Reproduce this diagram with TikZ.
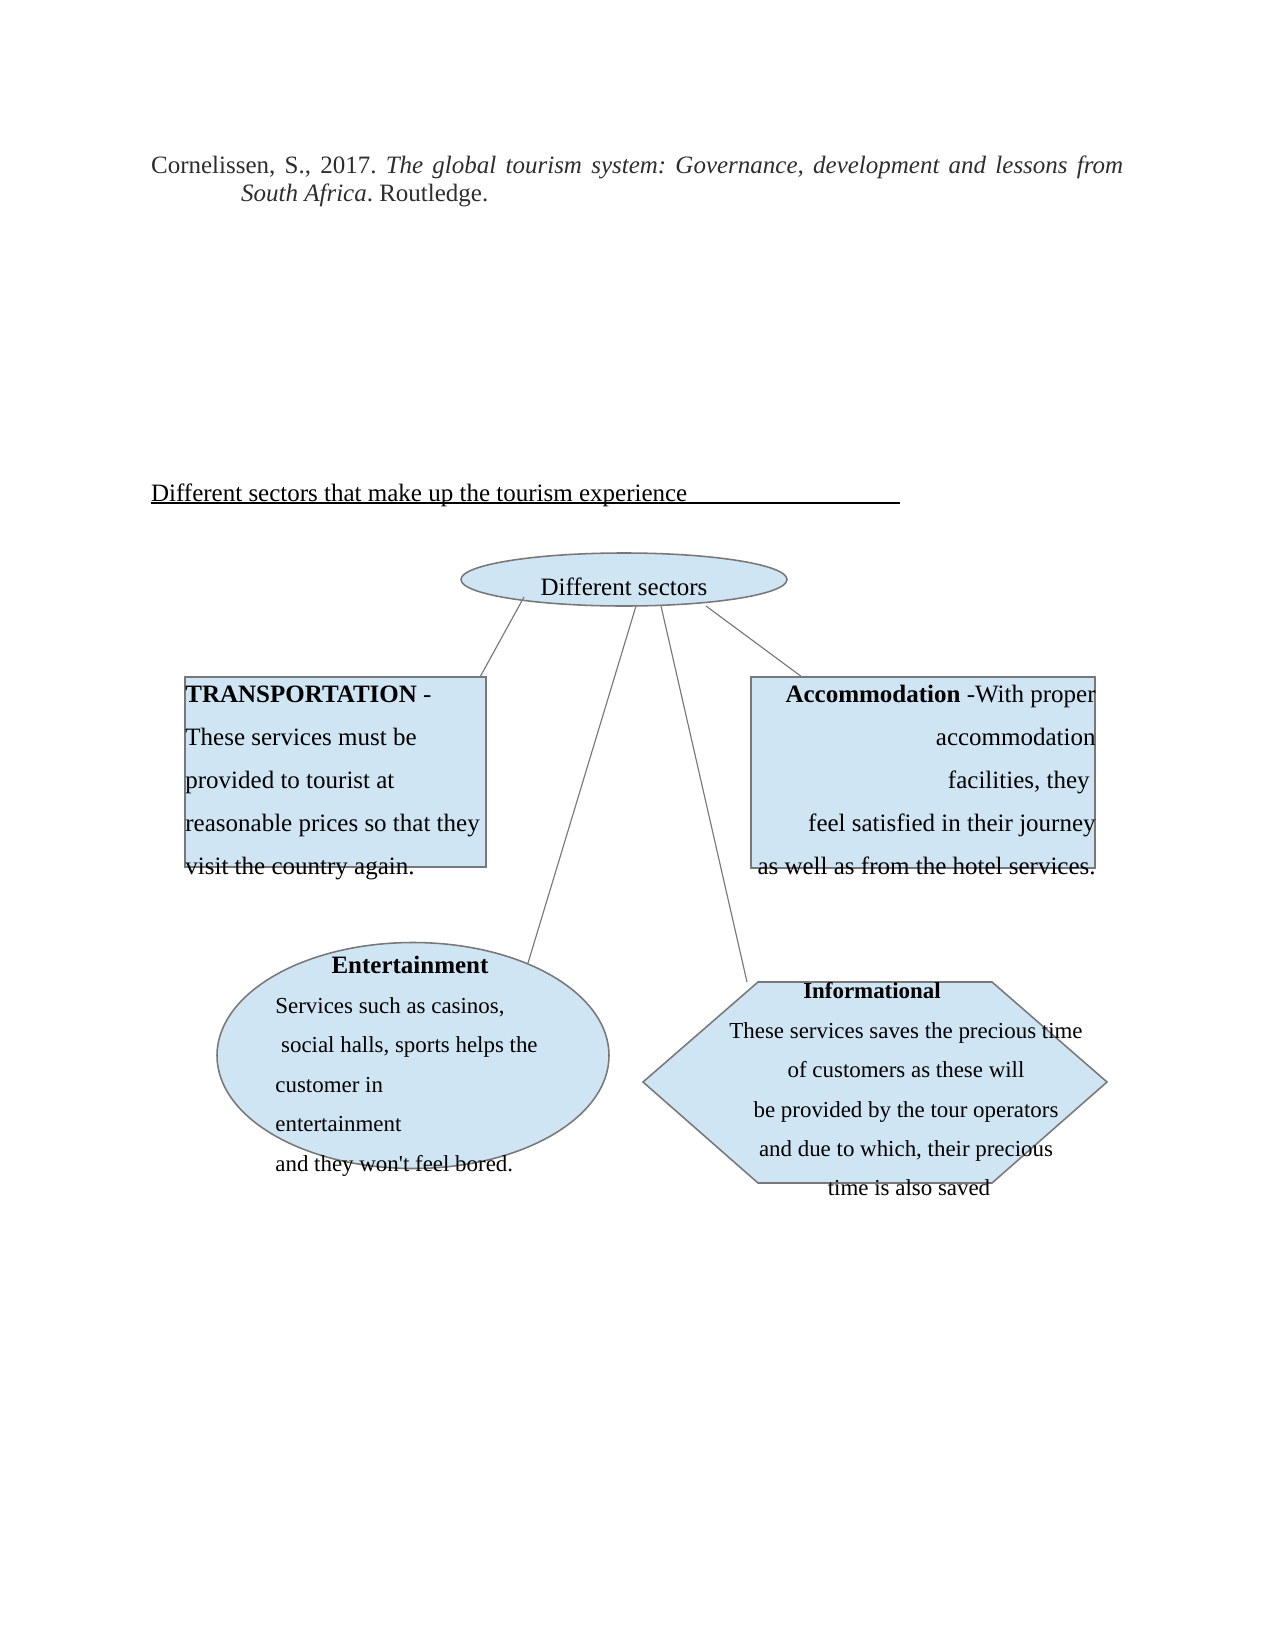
\documentclass[tikz,border=0pt]{standalone}
\usepackage{fontspec}
\setmainfont{Liberation Serif}
\usetikzlibrary{shapes.geometric}
\definecolor{boxfill}{RGB}{207,229,243}
\definecolor{boxline}{RGB}{120,120,120}
\definecolor{cite}{RGB}{45,45,45}
\tikzset{
  shapebox/.style={draw=boxline, line width=0.75pt, fill=boxfill, inner sep=0pt},
  conn/.style={draw=boxline, line width=0.55pt},
  txt/.style={inner sep=0pt, font=\fontsize{12}{14}\selectfont},
  stxt/.style={inner sep=0pt, font=\fontsize{11}{13}\selectfont},
}
\frenchspacing
\begin{document}
\begin{tikzpicture}[x=0.48pt, y=-0.48pt]
\useasboundingbox (0,0) rectangle (1275,1651);

% citation
\node[txt, text=cite, anchor=base west] (cit1) at (150.7,174) {\frenchspacing\hbox to 466.6pt{Cornelissen, S., 2017. \textit{The global tourism system: Governance, development and lessons from}}};
\node[txt, text=cite, anchor=base west] (cit2) at (240.7,202) {\textit{South Africa}. Routledge.};

% heading
\node[txt, anchor=base west] (head) at (150.7,501) {Different sectors that make up the tourism experience};
\coordinate (ul1) at (150.7,503);
\coordinate (ul2) at (900,503);
\draw[line width=0.6pt] (ul1) -- (ul2);

% top ellipse
\node[shapebox, ellipse, minimum width={326*0.48pt}, minimum height={53*0.48pt}] (sect) at (624,579.5) {};
\node[txt, anchor=base] (sectt) at (624,595) {Different sectors};

% transportation box
\node[shapebox, rectangle, minimum width={301*0.48pt}, minimum height={190*0.48pt}] (trans) at (335.5,772) {};
\node[txt, anchor=base west] (tr1) at (185,702) {\textbf{TRANSPORTATION} -};
\node[txt, anchor=base west] (tr2) at (185,745) {These services must be};
\node[txt, anchor=base west] (tr3) at (185,788) {provided to tourist at};
\node[txt, anchor=base west] (tr4) at (185,831) {reasonable prices so that they};
\node[txt, anchor=base west] (tr5) at (185,874) {visit the country again.};

% accommodation box
\node[shapebox, rectangle, minimum width={344*0.48pt}, minimum height={191*0.48pt}] (acc) at (923,772.5) {};
\node[txt, anchor=base east] (ac1) at (1096,702) {\textbf{Accommodation} -With proper};
\node[txt, anchor=base east] (ac2) at (1096,745) {accommodation};
\node[txt, anchor=base east] (ac3) at (1090,788) {facilities, they};
\node[txt, anchor=base east] (ac4) at (1096,831) {feel satisfied in their journey};
\node[txt, anchor=base east] (ac5) at (1096,874) {as well as from the hotel services.};

% entertainment ellipse
\node[shapebox, ellipse, minimum width={392*0.48pt}, minimum height={226*0.48pt}] (ent) at (413,1055.5) {};
\node[txt, anchor=base] (en0) at (410,973) {\textbf{Entertainment}};
\node[stxt, anchor=base west] (en1) at (275,1013) {Services such as casinos,};
\node[stxt, anchor=base west] (en2) at (275,1052) {\ social halls, sports helps the};
\node[stxt, anchor=base west] (en3) at (275,1092) {customer in};
\node[stxt, anchor=base west] (en4) at (275,1131) {entertainment};
\node[stxt, anchor=base west] (en5) at (275,1171) {and they won\textquotesingle t feel bored.};

% informational hexagon
\draw[shapebox] (758,982) -- (992,982) -- (1107,1082) -- (992,1183) -- (758,1183) -- (643,1082) -- cycle;
\coordinate (info) at (875,1082);
\node[stxt, anchor=base] (in0) at (872,998) {\textbf{Informational}};
\node[stxt, anchor=base] (in1) at (906,1038) {These services saves the precious time};
\node[stxt, anchor=base] (in2) at (906,1077) {of customers as these will};
\node[stxt, anchor=base] (in3) at (906,1117) {be provided by the tour operators};
\node[stxt, anchor=base] (in4) at (906,1156) {and due to which, their precious};
\node[stxt, anchor=base] (in5) at (909,1195) {time is also saved};

% connectors
\coordinate (s1) at (524,597);
\coordinate (t1) at (480,677);
\coordinate (s2) at (636,606);
\coordinate (e2) at (528,963);
\coordinate (s3) at (661,606);
\coordinate (i3) at (747,982);
\coordinate (s4) at (706,606);
\coordinate (a4) at (802,677);
\draw[conn] (s1) -- (t1);
\draw[conn] (s2) -- (e2);
\draw[conn] (s3) -- (i3);
\draw[conn] (s4) -- (a4);
\end{tikzpicture}
\end{document}
